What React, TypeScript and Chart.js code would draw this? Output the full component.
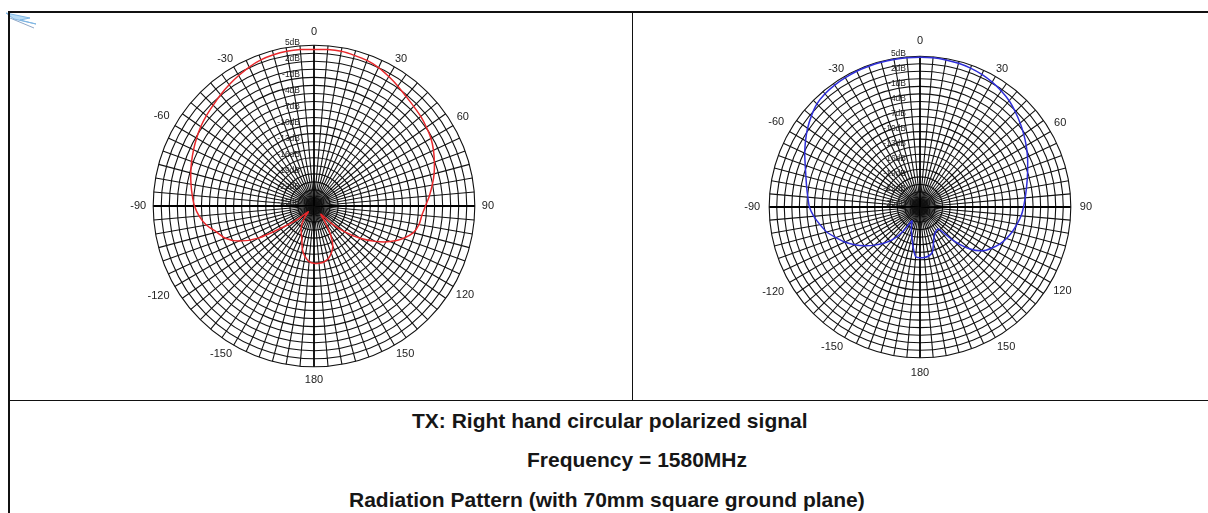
import React, { useEffect, useRef } from 'react';
import { Chart, registerables } from 'chart.js';

Chart.register(...registerables);

// Angle categories (degrees, clockwise from top)
const angles = [
  0, 5, 10, 15, 20, 25, 30, 35, 40, 45, 50, 55, 60, 65, 70, 75, 80, 85,
  90, 95, 100, 105, 110, 115, 120, 125, 130, 135, 140, 145, 150, 155, 160, 165, 170, 175,
  180, 185, 190, 195, 200, 205, 210, 215, 220, 225, 230, 235, 240, 245, 250, 255, 260, 265,
  270, 275, 280, 285, 290, 295, 300, 305, 310, 315, 320, 325, 330, 335, 340, 345, 350, 355,
];

// Angle tick labels (every 30 degrees)
const angleLabelText = ['0', '30', '60', '90', '120', '150', '180', '-150', '-120', '-90', '-60', '-30'];

// Radial tick labels (dB)
const dbTickLabels = [5, 2, -1, -4, -7, -10, -13, -16, -19, -22, -25];

// Radial grid rings (dB)
const ringValues = [
  -25, -23.5, -22, -20.5, -19, -17.5, -16, -14.5, -13, -11.5, -10,
  -8.5, -7, -5.5, -4, -2.5, -1, 0.5, 2, 3.5, 5,
];

// Left plot (red) gain in dB at each angle
const patternRed = [
  4.2, 4.3, 4.3, 4.1, 3.9, 3.5, 2.9, 2.3, 1.7, 1.3, 1.0, 0.6, 0.2, -0.4, -1.1, -1.8, -2.6, -3.4,
  -4.2, -4.8, -5.1, -5.8, -7.3, -9.3, -11.8, -14.5, -17.5, -20.5, -23.0, -21.5, -18.8, -16.7, -15.6, -14.8, -14.4, -14.3,
  -14.3, -14.6, -15.4, -16.6, -18.4, -19.4, -20.2, -21.2, -22.5, -23.5, -21.5, -18.5, -13.0, -9.5, -7.4, -6.2, -4.6, -3.5,
  -2.7, -2.2, -1.7, -1.2, -0.7, -0.2, 0.3, 0.8, 1.2, 1.6, 2.1, 2.6, 3.1, 3.6, 4.0, 4.2, 4.3, 4.3,
];

// Right plot (blue) gain in dB at each angle
const patternBlue = [
  4.8, 4.8, 4.7, 4.6, 4.4, 4.1, 3.7, 3.2, 2.6, 1.8, 1.0, 0.2, -0.6, -1.4, -2.2, -2.9, -3.5, -4.0,
  -4.4, -4.8, -5.4, -6.0, -6.7, -7.5, -8.6, -9.8, -12.0, -15.5, -19.3, -19.3, -19.0, -18.4, -17.2, -15.6, -15.1, -14.9,
  -14.9, -15.1, -17.0, -18.8, -20.0, -21.0, -21.8, -19.0, -16.5, -14.8, -13.2, -11.6, -10.0, -8.5, -7.2, -5.8, -4.8, -3.8,
  -3.0, -2.6, -2.1, -1.5, -0.7, 0.3, 1.3, 2.3, 3.2, 4.0, 4.4, 4.6, 4.7, 4.8, 4.8, 4.8, 4.8, 4.8,
];

const dbLabelPlugin = {
  id: 'dbLabels',
  beforeDatasetsDraw(chart: any) {
    const s = chart.scales.r;
    const ctx = chart.ctx;
    ctx.save();
    ctx.font = '8.5px "Liberation Sans", Arial, sans-serif';
    ctx.fillStyle = '#222';
    ctx.textAlign = 'right';
    ctx.textBaseline = 'middle';
    for (const v of dbTickLabels) {
      const d = s.getDistanceFromCenterForValue(v);
      ctx.fillText(`${v}dB`, s.xCenter - 14, s.yCenter - d - 3);
    }
    ctx.restore();
  },
};

type PolarProps = {
  values: number[];
  color: string;
  basePad: number;
  left: number;
  top: number;
  width: number;
  height: number;
};

function PolarPlot({ values, color, basePad, left, top, width, height }: PolarProps) {
  const ref = useRef<HTMLCanvasElement | null>(null);
  useEffect(() => {
    if (!ref.current) return;
    const diagPad: Record<number, number> = {
      6: 1, 12: 4, 24: 3, 30: 3, 42: 3, 48: 6, 60: 6, 66: 1,
    };
    const chart = new Chart(ref.current, {
      type: 'radar',
      data: {
        labels: angles,
        datasets: [
          {
            data: values,
            borderColor: color,
            borderWidth: 1.5,
            fill: false,
            pointRadius: 0,
            pointHitRadius: 0,
            tension: 0.25,
          },
        ],
      },
      options: {
        responsive: false,
        animation: false,
        events: [],
        layout: { padding: 0 },
        plugins: {
          legend: { display: false },
          tooltip: { enabled: false },
          title: { display: false },
        },
        scales: {
          r: {
            min: -25,
            max: 5,
            afterBuildTicks: (scale: any) => {
              scale.ticks = ringValues.map((v) => ({ value: v }));
            },
            ticks: { display: false, stepSize: 1.5 },
            grid: {
              circular: true,
              color: '#111',
              lineWidth: 1.1,
            },
            angleLines: {
              display: true,
              color: (ctx: any) => (ctx.index % 18 === 0 ? '#000' : '#111'),
              lineWidth: (ctx: any) => (ctx.index % 18 === 0 ? 1.8 : 1.1),
            },
            pointLabels: {
              display: true,
              color: '#222',
              font: { family: '"Liberation Sans", Arial, sans-serif', size: 11 },
              padding: (ctx: any) => {
                const p = diagPad[ctx.index];
                return p !== undefined ? p : basePad;
              },
              callback: (_label: any, index: number) =>
                index % 6 === 0 ? angleLabelText[index / 6] : '',
            },
          },
        },
      },
      plugins: [dbLabelPlugin],
    } as any);
    return () => chart.destroy();
  }, [values, color, basePad]);

  return (
    <canvas
      ref={ref}
      width={width}
      height={height}
      style={{ position: 'absolute', left, top, width, height }}
    />
  );
}

const line = (l: number, t: number, w: number, h: number) => (
  <div style={{ position: 'absolute', left: l, top: t, width: w, height: h, background: '#111' }} />
);

const textStyle: React.CSSProperties = {
  position: 'absolute',
  fontFamily: '"Liberation Sans", Arial, sans-serif',
  fontWeight: 'bold',
  fontSize: 21,
  lineHeight: '24px',
  color: '#161616',
  whiteSpace: 'nowrap',
};

export default function App() {
  return (
    <div
      style={{
        position: 'absolute',
        left: 0,
        top: 0,
        width: 1208,
        height: 513,
        overflow: 'hidden',
        background: '#fff',
      }}
    >
      <svg style={{ position: 'absolute', left: 0, top: 6 }} width={48} height={30}>
        <path d="M6 7 L30 12 L20 14 L36 18 L14 13 Z" fill="#b9dcf5" stroke="#7fb6e3" strokeWidth={1} />
        <path d="M10 12 L34 22" stroke="#8fa8c8" strokeWidth={1} />
      </svg>
      {line(8, 11, 1200, 2)}
      {line(8, 11, 2, 502)}
      {line(632, 11, 1, 390)}
      {line(8, 400, 1200, 1)}
      <PolarPlot values={patternRed} color="#e8282b" basePad={7} left={94} top={25} width={440} height={362} />
      <PolarPlot values={patternBlue} color="#2e2ed8" basePad={9} left={700} top={34} width={440} height={346} />
      <span style={{ ...textStyle, left: 412, top: 409 }}>TX: Right hand circular polarized signal</span>
      <span style={{ ...textStyle, left: 527, top: 448 }}>Frequency = 1580MHz</span>
      <span style={{ ...textStyle, left: 349, top: 488 }}>Radiation Pattern (with 70mm square ground plane)</span>
    </div>
  );
}
